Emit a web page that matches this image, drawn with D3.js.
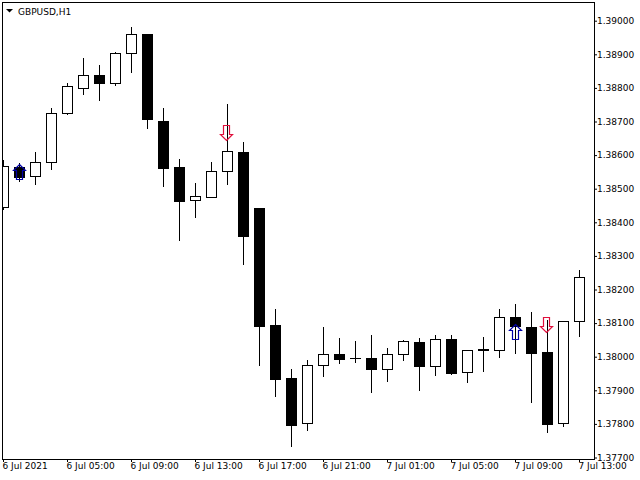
<!DOCTYPE html>
<html>
<head>
<meta charset="utf-8">
<script src="https://cdn.jsdelivr.net/npm/d3@7"></script>
<style>
html,body{margin:0;padding:0;background:#fff;}
svg{display:block;}
text{font-family:"DejaVu Sans",Tahoma,sans-serif;font-size:9px;fill:#000;}
</style>
</head>
<body>
<svg id="chart" width="640" height="480"></svg>
<script>
// ---- data ----
const symbolTitle = "GBPUSD,H1";
const barIndex = d3.range(37);
const opens  = [1.38445,1.38565,1.38537,1.38579,1.38724,1.38799,1.38838,1.38814,1.38903,1.38960,
                1.38701,1.38565,1.38465,1.38476,1.38552,1.38609,1.38443,1.38094,1.37937,1.37802,
                1.37974,1.38007,1.37995,1.37995,1.37962,1.38007,1.38044,1.37971,1.38053,1.37954,
                1.38020,1.38019,1.38118,1.38088,1.38014,1.37804,1.38107];
const highs  = [1.38585,1.38577,1.38609,1.38740,1.38815,1.38889,1.38868,1.38907,1.38981,1.38961,
                1.38740,1.38588,1.38517,1.38579,1.38752,1.38639,1.38444,1.38142,1.37963,1.37990,
                1.38088,1.38056,1.38047,1.38065,1.38025,1.38050,1.38056,1.38065,1.38065,1.38020,
                1.38059,1.38142,1.38157,1.38133,1.38109,1.38106,1.38257];
const lows   = [1.38440,1.38524,1.38515,1.38560,1.38723,1.38781,1.38765,1.38810,1.38848,1.38682,
                1.38509,1.38348,1.38417,1.38475,1.38515,1.38277,1.37976,1.37884,1.37735,1.37783,
                1.37943,1.37982,1.37985,1.37896,1.37929,1.37991,1.37902,1.37946,1.37950,1.37926,
                1.37958,1.37999,1.38012,1.37866,1.37777,1.37795,1.38063];
const closes = [1.38568,1.38535,1.38579,1.38724,1.38805,1.38838,1.38814,1.38903,1.38960,1.38706,
                1.38562,1.38464,1.38477,1.38553,1.38612,1.38360,1.38092,1.37935,1.37798,1.37974,
                1.38007,1.37994,1.37996,1.37964,1.38007,1.38046,1.37973,1.38052,1.37952,1.38019,
                1.38022,1.38117,1.38091,1.38012,1.37801,1.38105,1.38236];
const upArrowIdx = [1, 32];
const upArrowPrice = [1.38573, 1.38096];
const downArrowIdx = [14, 34];
const downArrowPrice = [1.38642, 1.38070];
const priceTicks = [1.390,1.389,1.388,1.387,1.386,1.385,1.384,1.383,1.382,1.381,1.380,1.379,1.378,1.377];
const timeTickIdx = [0,4,8,12,16,20,24,28,32,36];
const timeTickLabels = ["6 Jul 2021","6 Jul 05:00","6 Jul 09:00","6 Jul 13:00","6 Jul 17:00",
                        "6 Jul 21:00","7 Jul 01:00","7 Jul 05:00","7 Jul 09:00","7 Jul 13:00"];

// ---- layout ----
const svg = d3.select("#chart");
const plotL = 2, plotR = 594, plotT = 2, plotB = 459;
const x = d3.scaleLinear().domain([0, 36]).range([3, 579]);
const y = d3.scaleLinear().domain([1.377, 1.390]).range([457.5, 20.7]);

svg.append("defs").append("clipPath").attr("id","plotclip")
  .append("rect").attr("x", plotL).attr("y", plotT).attr("width", plotR-plotL).attr("height", plotB-plotT);

const plot = svg.append("g").attr("clip-path","url(#plotclip)");

const bars = barIndex.map(i => ({i, o: opens[i], h: highs[i], l: lows[i], c: closes[i]}));

// wicks
plot.selectAll("line.wick").data(bars).join("line")
  .attr("class","wick")
  .attr("x1", d => Math.round(x(d.i)) + 0.5)
  .attr("x2", d => Math.round(x(d.i)) + 0.5)
  .attr("y1", d => Math.round(y(d.h)))
  .attr("y2", d => Math.round(y(d.l)) + 1)
  .attr("stroke","#000").attr("stroke-width",1);

// bodies
bars.forEach(d => {
  const cx = Math.round(x(d.i));
  const yt = Math.round(y(Math.max(d.o, d.c)));
  const yb = Math.round(y(Math.min(d.o, d.c)));
  if (yb - yt < 1) {
    plot.append("line")
      .attr("x1", cx - 5).attr("x2", cx + 6)
      .attr("y1", yt + 0.5).attr("y2", yt + 0.5)
      .attr("stroke","#000").attr("stroke-width",1);
  } else {
    plot.append("rect")
      .attr("x", cx - 4.5).attr("y", yt + 0.5)
      .attr("width", 10).attr("height", yb - yt)
      .attr("fill", d.c >= d.o ? "#fff" : "#000")
      .attr("stroke","#000").attr("stroke-width",1);
  }
});

// arrows
function arrowPath(cx, ty, dir) {
  // dir = 1 : up arrow, tip at ty ; dir = -1 : down arrow, tip at ty
  const X = v => cx + v + 0.5;
  const Y = v => ty + dir * v + (dir > 0 ? 0.5 : -0.5);
  const pts = [[0,0],[6,6],[3,6],[3,15],[-3,15],[-3,6],[-6,6]];
  return "M" + pts.map(p => X(p[0]) + "," + Y(p[1])).join("L") + "Z";
}
upArrowIdx.forEach((bi, k) => {
  plot.append("path")
    .attr("d", arrowPath(Math.round(x(bi)), Math.round(y(upArrowPrice[k])), 1))
    .attr("fill","none").attr("stroke","#0000a8").attr("stroke-width",1.2);
});
downArrowIdx.forEach((bi, k) => {
  plot.append("path")
    .attr("d", arrowPath(Math.round(x(bi)) - 1, Math.round(y(downArrowPrice[k])), -1))
    .attr("fill","none").attr("stroke","#e0103c").attr("stroke-width",1.2);
});

// frame
svg.append("rect")
  .attr("x", plotL + 0.5).attr("y", plotT + 0.5)
  .attr("width", plotR - plotL).attr("height", plotB - plotT)
  .attr("fill","none").attr("stroke","#000").attr("stroke-width",1);

// price axis
const yAxis = d3.axisRight(y).tickValues(priceTicks).tickSize(3).tickPadding(0)
  .tickFormat(d3.format(".5f"));
const gy = svg.append("g").attr("transform", `translate(${plotR},0)`).call(yAxis);
gy.select(".domain").remove();
gy.selectAll("text").style("font-family", "'DejaVu Sans',Tahoma,sans-serif").style("font-size","9px").attr("fill","#000");
gy.selectAll("line").attr("stroke","#000");

// time axis
const xAxis = d3.axisBottom(x).tickValues(timeTickIdx).tickSize(3).tickPadding(1)
  .tickFormat((d, k) => timeTickLabels[k]);
const gx = svg.append("g").attr("transform", `translate(0,${plotB})`).call(xAxis);
gx.select(".domain").remove();
gx.selectAll("text").attr("text-anchor","start").attr("x", -1)
  .style("font-family", "'DejaVu Sans',Tahoma,sans-serif").style("font-size","9px").attr("fill","#000");
gx.selectAll("line").attr("stroke","#000");

// title
svg.append("path").attr("d","M6,9L13,9L9.5,12.5Z").attr("fill","#000");
svg.append("text").attr("x", 18).attr("y", 14.5).text(symbolTitle);
</script>
</body>
</html>
